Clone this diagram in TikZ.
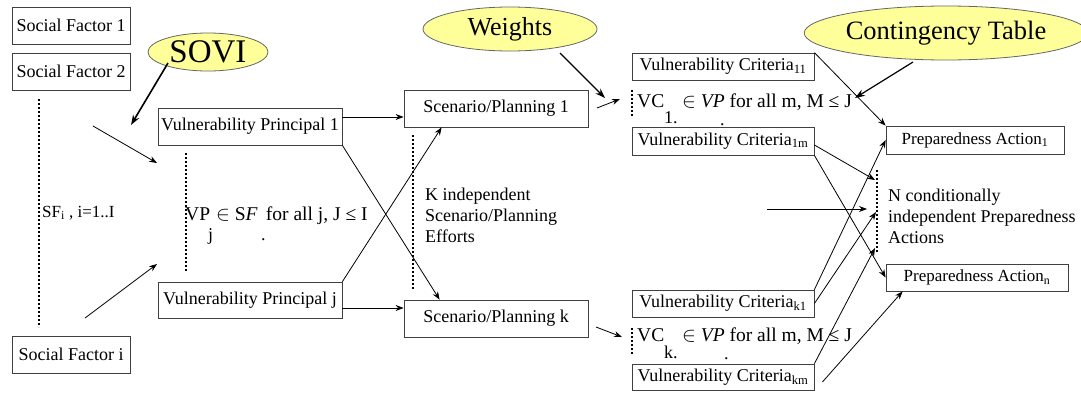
\documentclass[tikz,border=0pt]{standalone}
\usepackage{fontspec}
\setmainfont{Liberation Serif}
\usetikzlibrary{arrows.meta,shapes.geometric,calc}
\definecolor{ovalyellow}{HTML}{FFFF99}
\begin{document}
\begin{tikzpicture}[x=1pt,y=-1pt,
  box/.style={draw=black!75, line width=0.8pt, fill=white, inner sep=0pt, font=\fontsize{18}{21}\selectfont},
  oval/.style={ellipse, draw=black!60, line width=0.8pt, fill=ovalyellow, inner sep=0pt},
  arr/.style={-{Stealth[length=8pt,width=6pt]}, line width=0.8pt},
  thickarr/.style={-{Stealth[length=10pt,width=7pt]}, line width=1.6pt},
  dotline/.style={line width=2.2pt, dash pattern=on 2pt off 2pt},
  lbl/.style={inner sep=0pt, font=\fontsize{18}{21}\selectfont},
  frm/.style={inner sep=0pt, font=\fontsize{19.5}{23}\selectfont},
  sub/.style={inner sep=0pt, font=\fontsize{18}{21}\selectfont},
  ]
\fill[white] (0,0) rectangle (1081,394);
\useasboundingbox (0,0) rectangle (1081,394);

% ---- boxes ----
\node[box, minimum width=118pt, minimum height=37pt] (sf1) at (71,25.5) {Social Factor 1};
\node[box, minimum width=118pt, minimum height=37pt] (sf2) at (71,71.5) {Social Factor 2};
\node[box, minimum width=118pt, minimum height=37pt] (sfi) at (71,354.5) {Social Factor i};
\node[box, minimum width=184pt, minimum height=37pt] (vp1) at (250,126.5) {Vulnerability Principal 1};
\node[box, minimum width=184pt, minimum height=36pt] (vpj) at (250,300) {Vulnerability Principal j};
\node[box, minimum width=184pt, minimum height=37pt] (sp1) at (496,108.5) {Scenario/Planning 1};
\node[box, minimum width=184pt, minimum height=37pt] (spk) at (496,318.5) {Scenario/Planning k};
\node[box, minimum width=182pt, minimum height=27pt] (vc11) at (723,66.5) {Vulnerability Criteria\textsubscript{11}};
\node[box, minimum width=182pt, minimum height=28pt] (vc1m) at (723,141) {Vulnerability Criteria\textsubscript{1m}};
\node[box, minimum width=182pt, minimum height=27pt] (vck1) at (723,303.5) {Vulnerability Criteria\textsubscript{k1}};
\node[box, minimum width=182pt, minimum height=26pt] (vckm) at (723,377) {Vulnerability Criteria\textsubscript{km}};
\node[box, minimum width=178pt, minimum height=28pt, font=\fontsize{17}{20}\selectfont] (pa1) at (975,140) {Preparedness Action\textsubscript{1}};
\node[box, minimum width=182pt, minimum height=27pt, font=\fontsize{17}{20}\selectfont] (pan) at (977,277.5) {Preparedness Action\textsubscript{n}};

% ---- ovals ----
\node[oval, minimum width=120pt, minimum height=38pt, font=\fontsize{33}{36}\selectfont] (sovi) at (208,52) {SOVI};
\node[oval, minimum width=174pt, minimum height=44pt, font=\fontsize{26}{30}\selectfont] (weights) at (510,29) {Weights};
\node[oval, minimum width=234pt, minimum height=54pt, font=\fontsize{26.5}{30}\selectfont] (ct) at (946,33) {Contingency Table};

% ---- dotted lines ----
\coordinate (d1t) at (39,99);   \coordinate (d1b) at (39,327);
\coordinate (d2t) at (186,153); \coordinate (d2b) at (186,272);
\coordinate (d3t) at (413,135); \coordinate (d3b) at (413,290);
\coordinate (d4t) at (632,90);  \coordinate (d4b) at (632,117);
\coordinate (d5t) at (632,328); \coordinate (d5b) at (632,355);
\coordinate (d6t) at (877,170); \coordinate (d6b) at (877,252);
\draw[dotline] (d1t) -- (d1b);
\draw[dotline] (d2t) -- (d2b);
\draw[dotline] (d3t) -- (d3b);
\draw[dotline] (d4t) -- (d4b);
\draw[dotline] (d5t) -- (d5b);
\draw[dotline] (d6t) -- (d6b);

% ---- texts ----
\node[lbl, anchor=base west, font=\fontsize{17}{20}\selectfont] (sftxt) at (42,217) {SF\textsubscript{i} , i=1..I};
\node[frm, anchor=base west] (vpa) at (185,220) {VP};
\node[frm, anchor=base west] (vpb) at (216,220) {$\in$ S\textit{F}\, for all j, J ≤ I};
\node[sub, anchor=base west] (vpsub) at (208,240) {j};
\node[sub, anchor=base west] (vpdot) at (261,240) {.};
\node[lbl, anchor=north west, align=left] (ktxt) at (425,188) {K independent\\Scenario/Planning\\Efforts};
\node[lbl, anchor=north west, align=left] (ntxt) at (888,189) {N conditionally\\independent Preparedness\\Actions};
\node[frm, anchor=base west] (vc1a) at (637,107) {VC};
\node[frm, anchor=base west] (vc1b) at (682,107) {$\in$ \textit{VP} for all m, M ≤ J};
\node[sub, anchor=base west] (vc1s) at (664,123) {1.};
\node[sub, anchor=base west] (vc1d) at (720,125) {.};
\node[frm, anchor=base west] (vcka) at (637,341) {VC};
\node[frm, anchor=base west] (vckb) at (682,341) {$\in$ \textit{VP} for all m, M ≤ J};
\node[sub, anchor=base west] (vcks) at (664,358) {k.};
\node[sub, anchor=base west] (vckd) at (724,359) {.};

% ---- connector end points ----
\coordinate (soviout) at (168,63);   \coordinate (soviin) at (131,125);
\coordinate (f1s) at (93,126);       \coordinate (f1e) at (157,163);
\coordinate (f2s) at (85,318);       \coordinate (f2e) at (157,264);
\coordinate (wout) at (560,53);      \coordinate (win) at (605,98);
\coordinate (s1out) at (597,108);    \coordinate (s1in) at (620,99);
\coordinate (skout) at (596,327);    \coordinate (skin) at (622,337);
\coordinate (ctout) at (913,62);     \coordinate (ctin) at (855,98);
\coordinate (f3s) at (767,209);      \coordinate (f3e) at (867,209);
\coordinate (p1) at (875,180);
\coordinate (p2) at (876,212);
\coordinate (p3) at (875,248);

% ---- connectors ----
\draw[thickarr] (soviout) -- (soviin);
\draw[arr] (f1s) -- (f1e);
\draw[arr] (f2s) -- (f2e);
\coordinate (vp1r) at ([yshift=9.5pt]vp1.east);
\draw[arr] (vp1r) -- (vp1r -| sp1.west);
\coordinate (vpjr) at ([yshift=-8pt]vpj.east);
\draw[arr] (vpjr) -- (vpjr -| spk.west);
\draw[arr] (vpj.north east) -- ([xshift=38pt]sp1.south west);
\draw[arr] (vp1.south east) -- ([xshift=36pt]spk.north west);
\draw[thickarr, line width=1.2pt] (wout) -- (win);
\draw[arr] (s1out) -- (s1in);
\draw[arr] (skout) -- (skin);
\draw[thickarr, line width=1.2pt] (ctout) -- (ctin);
\draw[arr] (vc11.north east) -- (pa1.north west);
\draw[arr] ([yshift=-4pt]vc1m.east) -- (p1);
\draw[arr] (vc1m.south east) -- (pan.west);
\draw[arr] (vck1.north east) -- (pa1.west);
\draw[arr] (f3s) -- (f3e);
\draw[arr] (vck1.east) -- (p2);
\draw[arr] (vckm.north east) -- (p3);
\draw[arr] ([xshift=8pt,yshift=-5pt]vckm.east) -- ([xshift=17pt]pan.south west);
\end{tikzpicture}
\end{document}
